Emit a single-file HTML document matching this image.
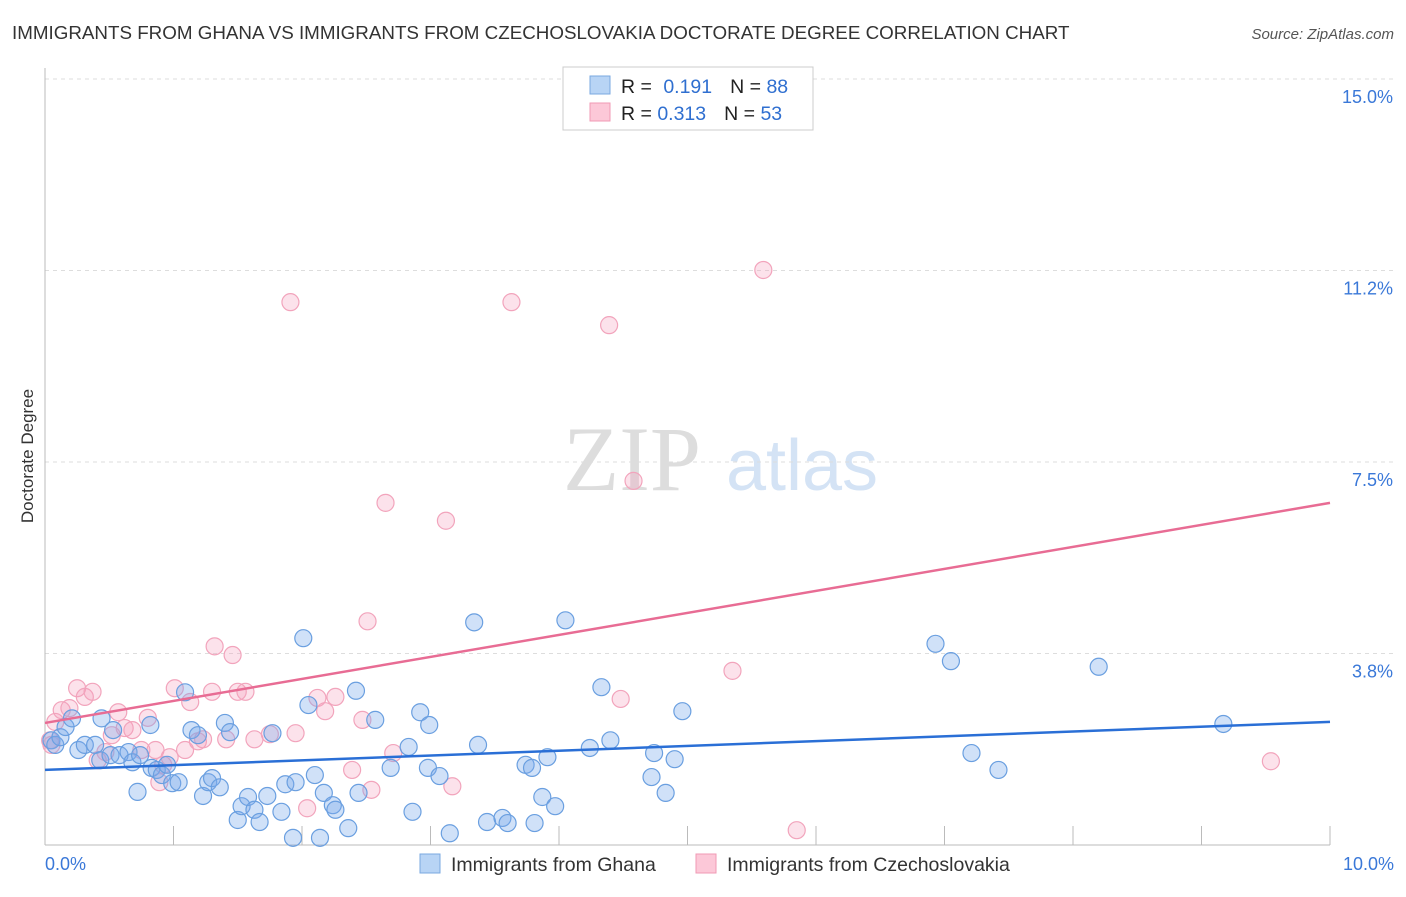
<!DOCTYPE html>
<html><head><meta charset="utf-8"><style>
body{margin:0;background:#fff;font-family:"Liberation Sans",sans-serif;}
</style></head><body>
<svg width="1406" height="892" xmlns="http://www.w3.org/2000/svg" id="chart">
<text x="12" y="39" font-size="18.8" fill="#333">IMMIGRANTS FROM GHANA VS IMMIGRANTS FROM CZECHOSLOVAKIA DOCTORATE DEGREE CORRELATION CHART</text>
<text x="1394" y="39" font-size="15" fill="#555" font-style="italic" text-anchor="end">Source: ZipAtlas.com</text>
<text x="33" y="456" font-size="17" fill="#333" text-anchor="middle" transform="rotate(-90 33 456)">Doctorate Degree</text>
<g>
<text x="632" y="490" font-size="92" fill="#ddd" font-family="Liberation Serif,serif" text-anchor="middle">ZIP</text>
<text x="802" y="490" font-size="72" fill="#d4e3f5" text-anchor="middle">atlas</text>
</g>
<g id="grid"></g>
<g id="axes"></g>
<g id="points"></g>
<g id="trends"></g>
<g>
<rect x="563" y="67" width="250" height="63" fill="#fff" stroke="#ccc"/>
<rect x="590" y="76" width="20" height="18" fill="#b8d4f5" stroke="#7aa8e0"/>
<text x="621" y="93" font-size="19.5" fill="#222">R = <tspan fill="#2f6fd0" dx="6">0.191</tspan><tspan fill="#222" dx="18">N = </tspan><tspan fill="#2f6fd0">88</tspan></text>
<rect x="590" y="103" width="20" height="18" fill="#fcc8d8" stroke="#f09ab4"/>
<text x="621" y="120" font-size="19.5" fill="#222">R = <tspan fill="#2f6fd0">0.313</tspan><tspan fill="#222" dx="18">N = </tspan><tspan fill="#2f6fd0">53</tspan></text>
</g>
<g>
<rect x="420" y="854" width="20" height="19" fill="#b8d4f5" stroke="#7aa8e0"/>
<text x="451" y="871" font-size="19.5" fill="#333">Immigrants from Ghana</text>
<rect x="696" y="854" width="20" height="19" fill="#fcc8d8" stroke="#f09ab4"/>
<text x="727" y="871" font-size="19.5" fill="#333">Immigrants from Czechoslovakia</text>
</g>
</svg>
<script>
const yTicks=[15.0,11.25,7.5,3.75];
const yTickLabels=["15.0%","11.2%","7.5%","3.8%"];
const xTickLabels=["0.0%","10.0%"];
const ghanaX=[0.05,0.08,0.12,0.16,0.21,0.26,0.31,0.39,0.43,0.44,0.51,0.53,0.58,0.65,0.68,0.72,0.74,0.82,0.83,0.87,0.91,0.95,0.99,1.04,1.09,1.14,1.19,1.23,1.27,1.30,1.36,1.40,1.44,1.50,1.53,1.58,1.63,1.67,1.73,1.77,1.84,1.87,1.93,1.95,2.01,2.05,2.10,2.14,2.17,2.24,2.26,2.36,2.42,2.44,2.57,2.69,2.83,2.86,2.92,2.98,2.99,3.07,3.15,3.34,3.37,3.44,3.56,3.60,3.74,3.79,3.81,3.87,3.91,3.97,4.05,4.24,4.33,4.40,4.72,4.74,4.83,4.90,4.96,6.93,7.05,7.21,7.42,8.20,9.17];
const ghanaY=[2.05,1.96,2.11,2.31,2.48,1.86,1.96,1.96,1.66,2.48,1.76,2.25,1.76,1.82,1.62,1.04,1.76,2.35,1.51,1.47,1.37,1.57,1.21,1.23,2.99,2.25,2.15,0.96,1.23,1.31,1.13,2.39,2.21,0.49,0.76,0.94,0.69,0.45,0.96,2.19,0.65,1.19,0.14,1.23,4.05,2.74,1.37,0.14,1.02,0.78,0.69,0.33,3.02,1.02,2.45,1.51,1.92,0.65,2.60,1.51,2.35,1.35,0.23,4.36,1.96,0.45,0.53,0.43,1.57,1.51,0.43,0.94,1.72,0.76,4.40,1.90,3.09,2.05,1.33,1.80,1.02,1.68,2.62,3.94,3.60,1.80,1.47,3.49,2.37];
const czechX=[0.04,0.05,0.08,0.13,0.19,0.25,0.31,0.37,0.41,0.47,0.52,0.57,0.62,0.68,0.75,0.80,0.86,0.89,0.92,0.97,1.01,1.09,1.13,1.19,1.23,1.30,1.32,1.41,1.46,1.50,1.56,1.63,1.75,1.91,1.95,2.04,2.12,2.18,2.26,2.39,2.47,2.51,2.54,2.65,2.71,3.12,3.17,3.63,4.39,4.48,4.58,5.35,5.59,5.85,9.54];
const czechY=[2.05,1.96,2.41,2.64,2.68,3.07,2.90,3.00,1.66,1.82,2.15,2.60,2.29,2.25,1.86,2.49,1.86,1.23,1.57,1.72,3.07,1.86,2.80,2.03,2.07,3.00,3.89,2.07,3.72,3.00,3.00,2.07,2.17,10.63,2.19,0.72,2.88,2.62,2.90,1.47,2.45,4.38,1.08,6.70,1.80,6.35,1.15,10.63,10.18,2.86,7.13,3.41,11.26,0.29,1.64];
const ghanaTrend=[1.47,2.41];
const czechTrend=[2.39,6.70];
const NS="http://www.w3.org/2000/svg";
const X0=45,X1=1330,YB=845,YT=79;
const sx=v=>X0+(X1-X0)*v/10;
const sy=v=>YB-(YB-YT)*v/15;
function mk(tag,attrs,parent){const e=document.createElementNS(NS,tag);for(const k in attrs)e.setAttribute(k,attrs[k]);document.getElementById(parent).appendChild(e);return e;}
yTicks.forEach((t,i)=>{
 const l=mk('line',{x1:X0,x2:1394,y1:sy(t),y2:sy(t),stroke:'#ddd','stroke-dasharray':'4,4'},'grid');
 
 
 const tx=mk('text',{x:1393,y:sy(t)+24,'font-size':18,fill:'#3a78d8','text-anchor':'end'},'grid');
 tx.textContent=yTickLabels[i];
 
 
});
let a=mk('line',{x1:X0,x2:X0,y1:68,y2:YB,stroke:'#bbb'},'axes');


a=mk('line',{x1:X0,x2:X1,y1:YB,y2:YB,stroke:'#bbb'},'axes');


for(let i=1;i<=10;i++){const t=mk('line',{x1:sx(i),x2:sx(i),y1:826,y2:YB,stroke:'#bbb'},'axes');
 
 }
[[0,'start',X0],[10,'end',1394]].forEach((d,i)=>{const t=mk('text',{x:d[2],y:870,'font-size':18,fill:'#3a78d8','text-anchor':d[1]},'axes');t.textContent=xTickLabels[i];
 
 });
czechX.forEach((x,i)=>{const c=mk('circle',{cx:sx(x),cy:sy(czechY[i]),r:8.5,fill:'rgba(245,160,190,0.3)',stroke:'#f2a4bc','stroke-width':1.2},'points');
 
 });
ghanaX.forEach((x,i)=>{const c=mk('circle',{cx:sx(x),cy:sy(ghanaY[i]),r:8.5,fill:'rgba(120,170,235,0.35)',stroke:'#6a9fe0','stroke-width':1.2},'points');
 
 });
let tl=mk('line',{x1:sx(0),y1:sy(ghanaTrend[0]),x2:sx(10),y2:sy(ghanaTrend[1]),stroke:'#2a6fd6','stroke-width':2.5},'trends');


tl=mk('line',{x1:sx(0),y1:sy(czechTrend[0]),x2:sx(10),y2:sy(czechTrend[1]),stroke:'#e86c94','stroke-width':2.5},'trends');


</script>
</body></html>
